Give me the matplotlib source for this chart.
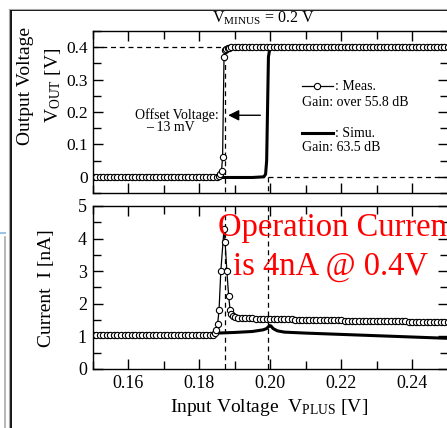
import matplotlib
matplotlib.use("Agg")
import matplotlib.pyplot as plt
from matplotlib.lines import Line2D

plt.rcParams['font.family'] = ['Liberation Serif', 'DejaVu Serif']
plt.rcParams['mathtext.fontset'] = 'custom'
plt.rcParams['mathtext.rm'] = 'Liberation Serif'
plt.rcParams['mathtext.it'] = 'Liberation Serif:italic'

# measured sweep (flat parts)
sweep_low = [0.150, 0.151, 0.152, 0.153, 0.154, 0.155, 0.156, 0.157, 0.158, 0.159,
             0.160, 0.161, 0.162, 0.163, 0.164, 0.165, 0.166, 0.167, 0.168, 0.169,
             0.170, 0.171, 0.172, 0.173, 0.174, 0.175, 0.176, 0.177, 0.178, 0.179,
             0.180, 0.181, 0.182, 0.183, 0.184]
sweep_high = [0.191, 0.192, 0.193, 0.194, 0.195, 0.196, 0.197, 0.198, 0.199,
              0.200, 0.201, 0.202, 0.203, 0.204, 0.205, 0.206, 0.207, 0.208, 0.209,
              0.210, 0.211, 0.212, 0.213, 0.214, 0.215, 0.216, 0.217, 0.218, 0.219,
              0.220, 0.221, 0.222, 0.223, 0.224, 0.225, 0.226, 0.227, 0.228, 0.229,
              0.230, 0.231, 0.232, 0.233, 0.234, 0.235, 0.236, 0.237, 0.238, 0.239,
              0.240, 0.241, 0.242, 0.243, 0.244, 0.245, 0.246, 0.247, 0.248, 0.249, 0.250]

# measured output voltage
vout_low = [0.0, 0.0, 0.0, 0.0, 0.0, 0.0, 0.0, 0.0, 0.0, 0.0,
            0.0, 0.0, 0.0, 0.0, 0.0, 0.0, 0.0, 0.0, 0.0, 0.0,
            0.0, 0.0, 0.0, 0.0, 0.0, 0.0, 0.0, 0.0, 0.0, 0.0,
            0.0, 0.0, 0.0, 0.0, 0.0]
vout_trans_x = [0.1850, 0.1855, 0.1860, 0.1863, 0.1866, 0.1870, 0.1873, 0.1876, 0.1880, 0.1885, 0.1890, 0.1900]
vout_trans = [0.0, 0.002, 0.008, 0.018, 0.062, 0.37, 0.391, 0.396, 0.398, 0.399, 0.400, 0.400]
vout_high = [0.4, 0.4, 0.4, 0.4, 0.4, 0.4, 0.4, 0.4, 0.4,
             0.4, 0.4, 0.4, 0.4, 0.4, 0.4, 0.4, 0.4, 0.4, 0.4,
             0.4, 0.4, 0.4, 0.4, 0.4, 0.4, 0.4, 0.4, 0.4, 0.4,
             0.4, 0.4, 0.4, 0.4, 0.4, 0.4, 0.4, 0.4, 0.4, 0.4,
             0.4, 0.4, 0.4, 0.4, 0.4, 0.4, 0.4, 0.4, 0.4, 0.4,
             0.4, 0.4, 0.4, 0.4, 0.4, 0.4, 0.4, 0.4, 0.4, 0.4, 0.4]

# measured current [nA]
cur_low = [1.03, 1.03, 1.03, 1.03, 1.03, 1.03, 1.03, 1.03, 1.03, 1.03,
           1.03, 1.03, 1.03, 1.03, 1.03, 1.03, 1.03, 1.03, 1.03, 1.03,
           1.03, 1.03, 1.03, 1.03, 1.03, 1.03, 1.03, 1.03, 1.03, 1.03,
           1.03, 1.03, 1.04, 1.04, 1.05]
cur_trans_x = [0.1845, 0.1848, 0.1852, 0.1856, 0.1861, 0.1870, 0.1873, 0.1878, 0.1883, 0.1887, 0.1891, 0.1896, 0.1900]
cur_trans = [1.10, 1.20, 1.38, 1.80, 3.00, 4.30, 3.90, 3.00, 2.25, 1.82, 1.70, 1.62, 1.58]
cur_high = [1.56, 1.56, 1.55, 1.55, 1.55, 1.54, 1.54, 1.54, 1.53,
            1.53, 1.53, 1.53, 1.52, 1.52, 1.52, 1.52, 1.51, 1.51, 1.51,
            1.51, 1.50, 1.50, 1.50, 1.50, 1.50, 1.49, 1.49, 1.49, 1.49,
            1.49, 1.48, 1.48, 1.48, 1.48, 1.48, 1.48, 1.47, 1.47, 1.47,
            1.47, 1.47, 1.47, 1.46, 1.46, 1.46, 1.46, 1.46, 1.46, 1.45,
            1.45, 1.45, 1.45, 1.45, 1.45, 1.44, 1.44, 1.44, 1.44, 1.43, 1.43]

# simulation
sim_v = [0.150, 0.195, 0.1982, 0.1987, 0.1990, 0.1995, 0.1998, 0.2002, 0.2010, 0.250]
sim_out = [-0.002, -0.002, 0.0, 0.008, 0.05, 0.37, 0.39, 0.399, 0.400, 0.400]
sim_cur_v = [0.150, 0.180, 0.185, 0.190, 0.195, 0.198, 0.1990, 0.1998, 0.2002, 0.2008,
             0.2020, 0.2040, 0.210, 0.220, 0.230, 0.240, 0.250]
sim_cur = [1.03, 1.05, 1.10, 1.12, 1.15, 1.20, 1.24, 1.33, 1.32, 1.24,
           1.17, 1.13, 1.10, 1.06, 1.02, 0.98, 0.94]

v_meas_sw = 0.1872
v_sim_sw = 0.1995

meas_x_top = sweep_low + vout_trans_x + sweep_high
meas_y_top = vout_low + vout_trans + vout_high
meas_x_bot = sweep_low + cur_trans_x + sweep_high
meas_y_bot = cur_low + cur_trans + cur_high

fig = plt.figure(figsize=(4.47, 4.28), dpi=100)
ax1 = fig.add_axes([0.207, 0.549, 0.795, 0.3785])
ax2 = fig.add_axes([0.207, 0.1379, 0.795, 0.381])

mk = dict(marker='o', markersize=4.5, markerfacecolor='white', markeredgecolor='black',
          markeredgewidth=0.8, color='black', lw=0.9)

# top: output voltage
ax1.plot([0.15, v_meas_sw], [0.4, 0.4], 'k--', lw=0.9, dashes=(4, 3))
ax1.plot([v_sim_sw, 0.25], [0.0, 0.0], 'k--', lw=0.9, dashes=(4, 3))
ax1.plot([v_meas_sw, v_meas_sw], [0.4, -0.05], 'k--', lw=0.9, dashes=(4, 3))
ax1.plot([v_sim_sw, v_sim_sw], [0.0, -0.05], 'k--', lw=0.9, dashes=(4, 3))
ax1.plot(sim_v, sim_out, color='black', lw=2.2)
ax1.plot(meas_x_top, meas_y_top, **mk)
ax1.set_xlim(0.15, 0.25)
ax1.set_ylim(-0.05, 0.45)
ax1.set_yticks([0, 0.1, 0.2, 0.3, 0.4])
ax1.set_yticklabels(['0', '0.1', '0.2', '0.3', '0.4'])
ax1.set_yticks([-0.05, 0.05, 0.15, 0.25, 0.35, 0.45], minor=True)

# offset annotation
ax1.text(0.1738, 0.19, 'Offset Voltage:', ha='center', va='center', fontsize=10)
ax1.text(0.1718, 0.151, '\u2013 13 mV', ha='center', va='center', fontsize=10)
ax1.annotate('', xy=(v_meas_sw + 0.0002, 0.19), xytext=(0.198, 0.19),
             arrowprops=dict(arrowstyle='-|>', color='black', lw=1.0, mutation_scale=16))

# legend (manual)
ax1.add_line(Line2D([0.590, 0.677], [0.66, 0.66], transform=ax1.transAxes, color='black', lw=0.9))
ax1.add_line(Line2D([0.633], [0.66], transform=ax1.transAxes, marker='o', markersize=4.5,
                    markerfacecolor='white', markeredgecolor='black', markeredgewidth=0.8,
                    linestyle='none'))
ax1.text(0.683, 0.66, ': Meas.', transform=ax1.transAxes, va='center', fontsize=10)
ax1.text(0.590, 0.556, 'Gain: over 55.8 dB', transform=ax1.transAxes, va='center', fontsize=10)
ax1.add_line(Line2D([0.590, 0.677], [0.37, 0.37], transform=ax1.transAxes, color='black', lw=2.2))
ax1.text(0.683, 0.37, ': Simu.', transform=ax1.transAxes, va='center', fontsize=10)
ax1.text(0.590, 0.278, 'Gain: 63.5 dB', transform=ax1.transAxes, va='center', fontsize=10)

# bottom: current
ax2.plot([v_meas_sw, v_meas_sw], [5, 0], 'k--', lw=0.9, dashes=(4, 3))
ax2.plot([v_sim_sw, v_sim_sw], [5, 0], 'k--', lw=0.9, dashes=(4, 3))
ax2.plot(sim_cur_v, sim_cur, color='black', lw=2.2)
ax2.plot(meas_x_bot, meas_y_bot, **mk)
ax2.set_xlim(0.15, 0.25)
ax2.set_ylim(0, 5)
ax2.set_yticks([0, 1, 2, 3, 4, 5])
ax2.set_yticks([0.5, 1.5, 2.5, 3.5, 4.5], minor=True)

for ax in (ax1, ax2):
    ax.set_xticks([0.16, 0.18, 0.20, 0.22, 0.24])
    ax.set_xticks([0.15, 0.17, 0.19, 0.21, 0.23, 0.25], minor=True)
    ax.tick_params(which='both', direction='in', top=True, right=True, labelsize=13, pad=4)
    ax.tick_params(which='major', length=7, width=1)
    ax.tick_params(which='minor', length=6, width=1)
    for s in ax.spines.values():
        s.set_linewidth(1.0)
ax1.tick_params(axis='y', labelsize=12.5, pad=3)
ax1.tick_params(labelbottom=False)
ax2.set_xticklabels(['0.16', '0.18', '0.20', '0.22', '0.24'])

# labels
fig.text(0.589, 0.958, r'V$_{\rm MINUS}$ = 0.2 V', ha='center', va='center', fontsize=11.5)
fig.text(0.058, 0.80, 'Output Voltage', rotation=90, ha='center', va='center', fontsize=14)
fig.text(0.118, 0.80, r'V$_{\rm OUT}$ [V]', rotation=90, ha='center', va='center', fontsize=14)
fig.text(0.103, 0.327, r'Current  I [nA]', rotation=90, ha='center', va='center', fontsize=14)
fig.text(0.602, 0.047, r'Input Voltage  V$_{\rm PLUS}$ [V]', ha='center', va='center', fontsize=14)

# red note
fig.text(0.488, 0.449, 'Operation Current', color='red', fontsize=23.5, ha='left', va='baseline')
fig.text(0.521, 0.357, 'is 4nA @ 0.4V', color='red', fontsize=23.5, ha='left', va='baseline')

# slide frame
fig.add_artist(Line2D([0.0235, 0.0235], [0.0, 0.9755], color='black', lw=1.3, transform=fig.transFigure))
fig.add_artist(Line2D([0.0235, 1.0], [0.9755, 0.9755], color='black', lw=1.3, transform=fig.transFigure))
fig.add_artist(Line2D([0.0205, 0.0205], [0.0, 0.978], color='#aaaaaa', lw=0.8, transform=fig.transFigure))
fig.add_artist(Line2D([0.0205, 1.0], [0.978, 0.978], color='#aaaaaa', lw=0.8, transform=fig.transFigure))
fig.add_artist(Line2D([0.012, 0.012], [0.0, 0.446], color='#aaaaaa', lw=1.2, transform=fig.transFigure))
fig.add_artist(Line2D([0.0, 0.012], [0.455, 0.455], color='#9dc3e6', lw=1.5, transform=fig.transFigure))

fig.savefig('out.png', dpi=100)
